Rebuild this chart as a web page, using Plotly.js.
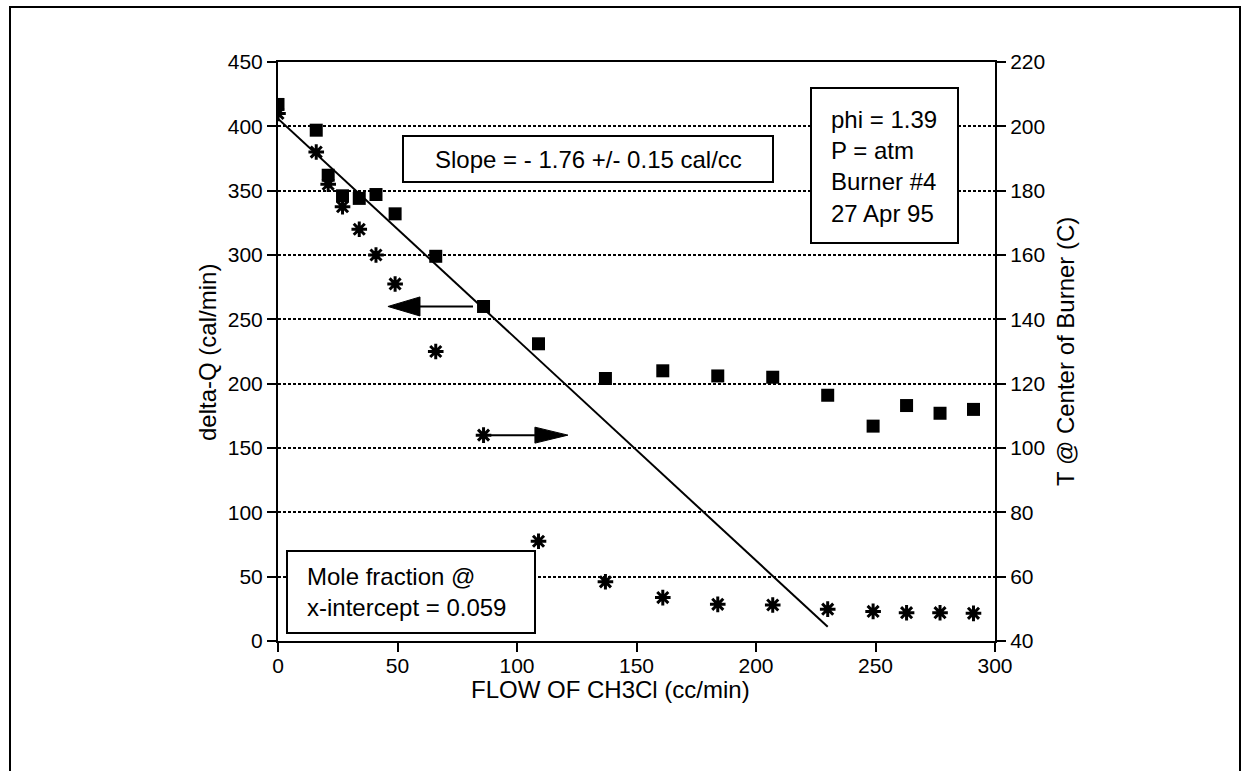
<!DOCTYPE html>
<html>
<head>
<meta charset="utf-8">
<script src="https://cdn.plot.ly/plotly-3.0.1.min.js"></script>
<style>html,body{margin:0;padding:0;background:#fff;}#chart{width:1248px;height:771px;}</style>
</head>
<body>
<div id="chart"></div>
<script>
// Flow of CH3Cl (cc/min)
const flow = [0, 16, 21, 27, 34, 41, 49, 66, 86, 109, 137, 161, 184, 207, 230, 249, 263, 277, 291];
// delta-Q (cal/min), squares, left axis
const deltaQ = [417, 397, 362, 346, 344, 347, 332, 299, 260, 231, 204, 210, 206, 205, 191, 167, 183, 177, 180];
// T @ Center of Burner (C), stars, right axis
const tempCenter = [204, 192, 182, 175, 168, 160, 151, 130, 104, 71, 58.4, 53.5, 51.4, 51.2, 49.9, 49.2, 48.8, 48.8, 48.6];
// fitted line of delta-Q vs flow
const fitX = [0, 230];
const fitY = [406, 11];
// tick labels
const xTicks = [0, 50, 100, 150, 200, 250, 300];
const yLeftTicks = [0, 50, 100, 150, 200, 250, 300, 350, 400, 450];
const yRightTicks = [40, 60, 80, 100, 120, 140, 160, 180, 200, 220];
// texts
const xTitle = 'FLOW OF CH3Cl (cc/min)';
const yLeftTitle = 'delta-Q (cal/min)';
const yRightTitle = 'T @ Center of Burner (C)';
const slopeText = 'Slope = - 1.76 +/- 0.15 cal/cc';
const conditionText = ['phi = 1.39', 'P = atm', 'Burner #4', '27 Apr 95'];
const moleText = ['Mole fraction @', 'x-intercept = 0.059'];

const FONT = 'Liberation Sans, Arial, Helvetica, sans-serif';
// plot area in pixels (for placing boxes/titles)
const PL = 278, PR = 995, PT = 62, PB = 641;
const px = v => (v - PL) / (PR - PL);
const py = v => (PB - v) / (PB - PT);

const traces = [
  {x: fitX, y: fitY, mode: 'lines', line: {color: '#000', width: 2}, yaxis: 'y', showlegend: false, hoverinfo: 'skip'},
  {x: flow, y: deltaQ, mode: 'markers', marker: {symbol: 'square', size: 13, color: '#000'}, yaxis: 'y', showlegend: false},
  {x: flow, y: tempCenter, mode: 'markers', marker: {symbol: 'asterisk-open', size: 13, color: '#000', line: {color: '#000', width: 3}}, yaxis: 'y2', showlegend: false}
];

const axisCommon = {
  showline: true, linecolor: '#000', linewidth: 2,
  ticks: 'outside', ticklen: 9, tickwidth: 2, tickcolor: '#000',
  tickfont: {family: FONT, size: 21, color: '#000'},
  zeroline: false, fixedrange: true
};
const innerTicks = {
  showline: false, ticks: 'inside', ticklen: 4, tickwidth: 2, tickcolor: '#000',
  showticklabels: false, showgrid: false, zeroline: false, fixedrange: true
};

const boxStyle = {type: 'rect', xref: 'paper', yref: 'paper', fillcolor: '#fff', line: {color: '#000', width: 2}, layer: 'above'};

const layout = {
  width: 1248, height: 771,
  margin: {l: PL, r: 1248 - PR, t: PT, b: 771 - PB, pad: 0},
  paper_bgcolor: '#fff', plot_bgcolor: '#fff',
  font: {family: FONT, color: '#000'},
  showlegend: false,
  xaxis: Object.assign({}, axisCommon, {
    range: [0, 300], tickvals: xTicks, ticktext: xTicks.map(String), mirror: true, showgrid: false,
    ticklabelstandoff: -4
  }),
  yaxis: Object.assign({}, axisCommon, {
    range: [0, 450], tickvals: yLeftTicks, ticktext: yLeftTicks.map(String),
    showgrid: true, gridcolor: '#000', gridwidth: 2, griddash: '3px,2px'
  }),
  yaxis2: Object.assign({}, axisCommon, {
    range: [40, 220], tickvals: yRightTicks, ticktext: yRightTicks.map(String),
    overlaying: 'y', side: 'right', showgrid: false
  }),
  yaxis3: Object.assign({}, innerTicks, {range: [0, 450], tickvals: yLeftTicks, overlaying: 'y', side: 'left'}),
  yaxis4: Object.assign({}, innerTicks, {range: [40, 220], tickvals: yRightTicks, overlaying: 'y', side: 'right'}),
  annotations: [
    {xref: 'paper', yref: 'paper', x: px(610), y: py(689), text: xTitle, showarrow: false, font: {size: 24, family: FONT}, xanchor: 'center', yanchor: 'middle'},
    {xref: 'paper', yref: 'paper', x: px(207), y: py(353), text: yLeftTitle, textangle: -90, showarrow: false, font: {size: 24, family: FONT}, xanchor: 'center', yanchor: 'middle'},
    {xref: 'paper', yref: 'paper', x: px(1066), y: py(352), text: yRightTitle, textangle: -90, showarrow: false, font: {size: 24, family: FONT}, xanchor: 'center', yanchor: 'middle'},
    {xref: 'paper', yref: 'paper', x: px(588), y: py(159), text: slopeText, showarrow: false, font: {size: 24, family: FONT}, xanchor: 'center', yanchor: 'middle'},
    {xref: 'paper', yref: 'paper', x: px(829), y: py(166), text: conditionText.join('<br>'), showarrow: false, align: 'left', font: {size: 24, family: FONT}, xanchor: 'left', yanchor: 'middle'},
    {xref: 'paper', yref: 'paper', x: px(305), y: py(592), text: moleText.join('<br>'), showarrow: false, align: 'left', font: {size: 24, family: FONT}, xanchor: 'left', yanchor: 'middle'}
  ],
  shapes: [
    // outer frame
    {type: 'rect', xref: 'paper', yref: 'paper', x0: px(10), x1: px(1240), y0: py(800), y1: py(7), line: {color: '#000', width: 2}},
    // text boxes
    Object.assign({}, boxStyle, {x0: px(403), x1: px(773), y0: py(182), y1: py(136)}),
    Object.assign({}, boxStyle, {x0: px(811), x1: px(958), y0: py(243), y1: py(88)}),
    Object.assign({}, boxStyle, {x0: px(287), x1: px(535), y0: py(633), y1: py(551)}),
    // left arrow (points to delta-Q axis)
    {type: 'line', xref: 'x', yref: 'y', x0: 59.4, x1: 81.6, y0: 260, y1: 260, line: {color: '#000', width: 2}},
    {type: 'path', xref: 'x', yref: 'y', path: 'M 46,260 L 59.4,267.4 L 59.4,252.6 Z', fillcolor: '#000', line: {color: '#000', width: 1}},
    // right arrow (points to T axis)
    {type: 'line', xref: 'x', yref: 'y', x0: 88.7, x1: 107.5, y0: 160, y1: 160, line: {color: '#000', width: 2}},
    {type: 'path', xref: 'x', yref: 'y', path: 'M 121.3,160 L 107.5,166.2 L 107.5,153.8 Z', fillcolor: '#000', line: {color: '#000', width: 1}}
  ]
};

Plotly.newPlot('chart', traces, layout, {displayModeBar: false, staticPlot: true});
</script>
</body>
</html>
